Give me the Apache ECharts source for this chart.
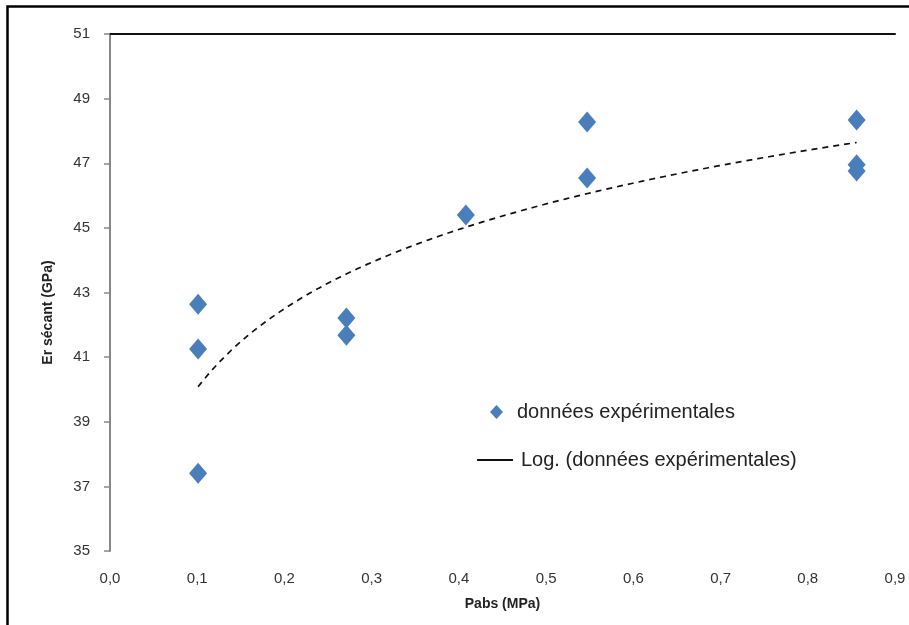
<!DOCTYPE html>
<html>
<head>
<meta charset="utf-8">
<script src="https://cdn.jsdelivr.net/npm/echarts@6/dist/echarts.min.js"></script>
<style>
html,body{margin:0;padding:0;background:#fff;}
#chart{width:909px;height:625px;}
</style>
</head>
<body>
<div id="chart"></div>
<script>
// Absolute pressure (MPa) of each measurement
const pabs = [0.101, 0.101, 0.101, 0.271, 0.271, 0.408, 0.547, 0.547, 0.856, 0.856, 0.856];
// Secant modulus (GPa) of each measurement
const modulus = [42.64, 41.25, 37.41, 42.21, 41.68, 45.40, 48.28, 46.54, 48.34, 46.95, 46.76];
const yTicks = [35, 37, 39, 41, 43, 45, 47, 49, 51];
const xTicks = [0, 0.1, 0.2, 0.3, 0.4, 0.5, 0.6, 0.7, 0.8, 0.9];
const seriesName = 'données expérimentales';
const trendName = 'Log. (données expérimentales)';

// logarithmic least-squares trend (y = a ln x + b) fitted on the data
const n = pabs.length;
const L = pabs.map(Math.log);
const mL = L.reduce((s, v) => s + v, 0) / n;
const mY = modulus.reduce((s, v) => s + v, 0) / n;
let sxy = 0, sxx = 0;
for (let i = 0; i < n; i++) { sxy += (L[i] - mL) * (modulus[i] - mY); sxx += (L[i] - mL) ** 2; }
const a = sxy / sxx, b = mY - a * mL;
const xMin = Math.min(...pabs), xMax = Math.max(...pabs);
const trend = [];
for (let k = 0; k <= 120; k++) {
  const x = xMin + (xMax - xMin) * k / 120;
  trend.push([x, a * Math.log(x) + b]);
}

const chart = echarts.init(document.getElementById('chart'));
const font = 'Liberation Sans, Arial, sans-serif';
chart.setOption({
  animation: false,
  backgroundColor: '#fff',
  graphic: [{
    type: 'rect', left: 5, top: 4, z: 100, silent: true,
    shape: { width: 1000, height: 1000 },
    style: { fill: 'none', stroke: '#000', lineWidth: 2.5 }
  }],
  grid: { left: 110, right: 14, top: 34, bottom: 74 },
  xAxis: [{
    type: 'value', min: xTicks[0], max: xTicks[xTicks.length - 1], interval: 0.1, position: 'bottom',
    axisLine: { show: false }, axisTick: { show: false }, splitLine: { show: false },
    axisLabel: { margin: 20, color: '#333', fontSize: 15, fontFamily: font,
      formatter: v => v.toFixed(1).replace('.', ',') },
    name: 'Pabs (MPa)', nameLocation: 'middle', nameGap: 46,
    nameTextStyle: { color: '#222', fontSize: 14, fontWeight: 'bold', fontFamily: font }
  }, {
    type: 'value', min: xTicks[0], max: xTicks[xTicks.length - 1], interval: 0.1, position: 'top',
    axisLine: { show: true, lineStyle: { color: '#111', width: 2 } },
    axisTick: { show: false }, axisLabel: { show: false }, splitLine: { show: false }
  }],
  yAxis: {
    type: 'value', min: yTicks[0], max: yTicks[yTicks.length - 1], interval: 2,
    axisLine: { show: true, lineStyle: { color: '#888', width: 2 } },
    axisTick: { show: true, length: 6, lineStyle: { color: '#888', width: 1.5 } },
    splitLine: { show: false },
    axisLabel: { margin: 20, color: '#333', fontSize: 15, fontFamily: font },
    name: 'Er sécant (GPa)', nameLocation: 'middle', nameGap: 55, nameRotate: 90,
    nameTextStyle: { color: '#222', fontSize: 14, fontWeight: 'bold', fontFamily: font,
      padding: [0, 40, 0, 0] }
  },
  legend: [{
    data: [{ name: seriesName, icon: 'diamond' }],
    left: 490, top: 402, padding: 0, itemWidth: 13, itemHeight: 14, itemGap: 10,
    textStyle: { color: '#222', fontSize: 20, fontFamily: font, padding: [0, 0, 0, 9] }
  }, {
    data: [{ name: trendName, icon: 'rect' }],
    left: 477, top: 450, padding: 0, itemWidth: 36, itemHeight: 2, itemGap: 6,
    textStyle: { color: '#222', fontSize: 20, fontFamily: font, padding: [0, 0, 0, 3] }
  }],
  series: [{
    name: trendName, type: 'line', xAxisIndex: 0, data: trend, showSymbol: false,
    smooth: false, z: 2,
    lineStyle: { color: '#111', width: 1.7, type: [6, 5] },
    itemStyle: { color: '#111' }
  }, {
    name: seriesName, type: 'scatter', xAxisIndex: 0,
    data: pabs.map((x, i) => [x, modulus[i]]),
    symbol: 'diamond', symbolSize: [18, 21], z: 3,
    itemStyle: { color: '#4a7ebb', opacity: 1 }
  }]
});
</script>
</body>
</html>
